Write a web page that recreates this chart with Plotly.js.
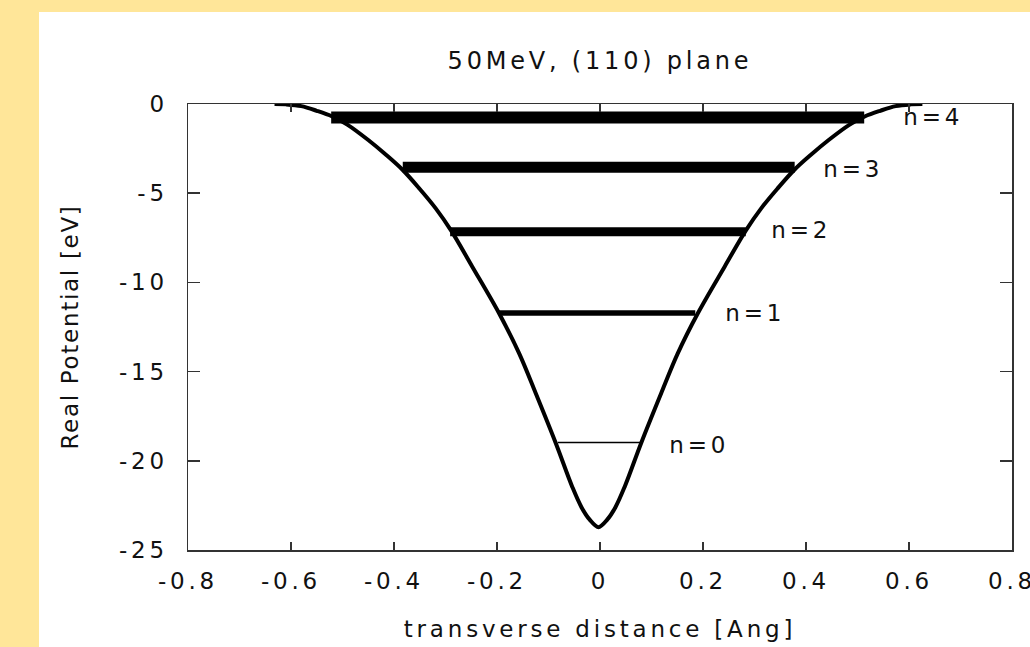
<!DOCTYPE html>
<html><head><meta charset="utf-8">
<script src="https://cdn.plot.ly/plotly-3.0.1.min.js"></script>
<style>
html,body{margin:0;padding:0;background:#FFE699;width:1030px;height:647px;overflow:hidden;}
#chart{position:absolute;left:39px;top:12px;width:991px;height:635px;background:#fff;}
#chart text{letter-spacing:3.8px;}
#chart .ytitle{letter-spacing:1.7px;}
</style></head><body><div id="chart"></div>
<script>
// potential well
const wellX = [-0.632,-0.61,-0.58,-0.55,-0.52,-0.49,-0.45,-0.415,-0.383,-0.351,-0.319,-0.289,-0.248,-0.196,-0.157,-0.125,-0.086,-0.054,-0.036,-0.020,-0.003,
               0.014,0.030,0.048,0.080,0.119,0.151,0.190,0.242,0.283,0.313,0.345,0.377,0.409,0.444,0.484,0.514,0.544,0.574,0.604,0.626];
const wellV = [0,-0.02,-0.12,-0.38,-0.70,-1.17,-2.02,-2.86,-3.70,-4.73,-5.85,-7.10,-9.12,-11.73,-13.98,-16.2,-19.0,-21.45,-22.6,-23.3,-23.72,
               -23.3,-22.6,-21.45,-19.0,-16.2,-13.98,-11.73,-9.12,-7.10,-5.85,-4.73,-3.70,-2.86,-2.02,-1.17,-0.70,-0.38,-0.12,-0.02,0];
// bound-state levels
const levelN = [0,1,2,3,4];
const levelE = [-18.98,-11.72,-7.16,-3.55,-0.76];
const levelXLeft = [-0.082,-0.196,-0.291,-0.383,-0.522];
const levelXRight = [0.079,0.185,0.283,0.378,0.513];
const labelX = [0.193,0.301,0.390,0.492,0.646];
const labelY = [-19.1,-11.7,-7.06,-3.64,-0.71];
// ticks
const xTickVals = [-0.8,-0.6,-0.4,-0.2,0,0.2,0.4,0.6,0.8];
const xTickText = ["-0.8","-0.6","-0.4","-0.2","0","0.2","0.4","0.6","0.8"];
const yTickVals = [-25,-20,-15,-10,-5,0];
const yTickText = ["-25","-20","-15","-10","-5","0"];

const levelWidths = [1.5,5.5,9,11,12];
const FONT = {family:"DejaVu Sans, sans-serif", size:23, color:"#111"};

const traces = levelN.map((n,i)=>({
  type:"scatter", mode:"lines",
  x:[levelXLeft[i], levelXRight[i]], y:[levelE[i], levelE[i]],
  line:{color:"#000", width:levelWidths[i]}, hoverinfo:"skip", showlegend:false
}));
traces.push({type:"scatter", mode:"lines", x:wellX, y:wellV,
  line:{color:"#000", width:4, shape:"spline", smoothing:1}, hoverinfo:"skip", showlegend:false});

const annotations = levelN.map((n,i)=>({
  x:labelX[i], y:labelY[i], xref:"x", yref:"y", text:"n="+n, showarrow:false,
  xanchor:"center", yanchor:"middle", font:FONT
}));

const axisCommon = {showline:true, mirror:"ticks", linecolor:"#333", linewidth:1.5,
  ticks:"inside", tickcolor:"#333", tickwidth:1.5, showgrid:false, zeroline:false,
  tickfont:FONT, tickmode:"array", automargin:false, fixedrange:true, ticklabeloverflow:"allow"};

const layout = {
  width:991, height:635,
  margin:{l:149, r:18, t:92, b:97},
  paper_bgcolor:"#fff", plot_bgcolor:"#fff",
  title:{text:"50MeV, (110) plane", font:{family:"DejaVu Sans, sans-serif", size:24, color:"#111"},
         x:0.5, xref:"paper", xanchor:"center", yref:"container", y:0.924, yanchor:"middle"},
  xaxis:Object.assign({}, axisCommon, {range:[-0.8,0.8], tickvals:xTickVals, ticktext:xTickText, ticklen:8,
         ticklabelstandoff:10,
         title:{text:"transverse distance [Ang]", font:FONT, standoff:28}}),
  yaxis:Object.assign({}, axisCommon, {range:[-25,0], tickvals:yTickVals, ticktext:yTickText, ticklen:12,
         ticklabelstandoff:14,
         title:{text:"Real Potential [eV]", font:FONT, standoff:45}}),
  annotations:annotations,
  showlegend:false
};
Plotly.newPlot("chart", traces, layout, {staticPlot:true, displayModeBar:false});
</script></body></html>
